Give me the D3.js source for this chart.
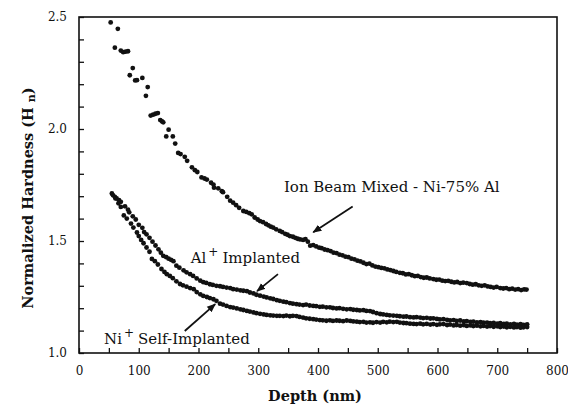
<!DOCTYPE html>
<html>
<head>
<meta charset="utf-8">
<script src="https://cdn.jsdelivr.net/npm/d3@7"></script>
<style>
  body { margin: 0; background: #fff; }
  svg { display: block; }
  .tick text { font-family: "DejaVu Serif", "Liberation Serif", serif; font-size: 12px; fill: #111; }
  .tick line { stroke: #111; stroke-width: 1.3; }
  .domain { stroke: none; }
</style>
</head>
<body>
<script>
// Datos: [profundidad (nm), dureza normalizada]
var ionBeamMixed = [
  [53,2.476],[65,2.447],[60,2.363],[70,2.350],[74,2.343],[78,2.345],[82,2.347],
  [90,2.272],[85,2.240],[94,2.217],[97,2.218],[106,2.228],[115,2.187],[112,2.148],
  [120,2.060],[124,2.064],[128,2.068],[132,2.071],[136,2.040],[139,2.034],[141,2.030],
  [150,1.997],[146,1.967],[157,1.967],[161,1.935],[166,1.893],[170,1.888],[177,1.876],
  [181,1.858],[189,1.829],[194,1.816],[198,1.808],[205,1.784],[210,1.779],[214,1.774],
  [221,1.760],[225,1.752],[226,1.738],[233,1.735],[239,1.722],[241,1.718],[248,1.697],
  [253,1.680],[258,1.671],[263,1.660],[268,1.648],[275,1.634],[280,1.630],[285,1.624],
  [289,1.619],[294,1.605],[299,1.596],[303,1.589],[308,1.584],[313,1.576],[317,1.570],
  [321,1.564],[325,1.560],[330,1.552],[336,1.545],[340,1.540],[345,1.532],[349,1.528],
  [353,1.522],[358,1.519],[362,1.514],[366,1.510],[370,1.507],[375,1.505],[379,1.508],
  [383,1.497],[387,1.479],[392,1.482],[397,1.476],[402,1.470],[406,1.468],[411,1.462],
  [416,1.459],[421,1.455],[426,1.448],[431,1.446],[436,1.439],[441,1.436],[446,1.430],
  [451,1.428],[456,1.421],[461,1.418],[466,1.412],[471,1.409],[476,1.403],[481,1.397],
  [486,1.399],[491,1.391],[496,1.386],[501,1.383],[506,1.380],[511,1.378],[516,1.373],
  [521,1.370],[526,1.366],[531,1.362],[537,1.358],[542,1.356],[547,1.351],[552,1.352],
  [557,1.347],[562,1.343],[567,1.344],[572,1.339],[577,1.336],[582,1.337],[587,1.333],
  [593,1.330],[598,1.327],[603,1.328],[608,1.323],[613,1.321],[618,1.322],[623,1.318],
  [628,1.315],[633,1.317],[638,1.312],[643,1.314],[649,1.312],[654,1.308],[659,1.305],
  [664,1.307],[669,1.302],[674,1.300],[679,1.302],[684,1.297],[689,1.295],[694,1.292],
  [699,1.295],[705,1.290],[710,1.288],[715,1.290],[720,1.285],[725,1.287],[730,1.283],
  [735,1.285],[740,1.281],[745,1.284],[749,1.283]
];

var alImplanted = [
  [55,1.712],[60,1.697],[63,1.690],[67,1.682],[70,1.675],[77,1.655],[82,1.640],
  [84,1.628],[90,1.610],[95,1.596],[100,1.572],[106,1.559],[109,1.540],[113,1.530],
  [118,1.514],[123,1.497],[128,1.480],[133,1.463],[137,1.448],[141,1.434],[146,1.428],
  [150,1.421],[154,1.416],[158,1.410],[163,1.390],[168,1.381],[175,1.369],[180,1.360],
  [186,1.352],[191,1.344],[197,1.333],[203,1.323],[208,1.316],[213,1.313],[219,1.307],
  [224,1.304],[230,1.300],[236,1.298],[241,1.295],[247,1.292],[253,1.290],[258,1.285],
  [264,1.283],[270,1.280],[275,1.278],[281,1.276],[286,1.270],[292,1.266],[297,1.260],
  [303,1.256],[309,1.252],[314,1.248],[320,1.244],[325,1.241],[331,1.236],[336,1.233],
  [342,1.229],[347,1.227],[353,1.223],[358,1.220],[364,1.218],[369,1.216],[375,1.214],
  [380,1.216],[386,1.212],[392,1.210],[397,1.209],[403,1.206],[408,1.207],[414,1.204],
  [420,1.204],[425,1.201],[431,1.199],[436,1.200],[442,1.197],[448,1.195],[454,1.196],
  [459,1.193],[465,1.192],[470,1.190],[476,1.191],[481,1.188],[487,1.187],[492,1.183],
  [498,1.178],[504,1.174],[509,1.172],[515,1.170],[520,1.168],[526,1.167],[532,1.166],
  [537,1.164],[543,1.162],[548,1.163],[554,1.160],[560,1.159],[565,1.160],[571,1.158],
  [576,1.156],[582,1.157],[588,1.154],[593,1.155],[599,1.152],[604,1.150],[610,1.151],
  [616,1.148],[621,1.146],[627,1.147],[632,1.143],[638,1.145],[644,1.141],[649,1.142],
  [655,1.139],[660,1.140],[666,1.137],[672,1.138],[677,1.135],[683,1.136],[688,1.133],
  [694,1.134],[700,1.131],[705,1.133],[711,1.130],[716,1.131],[722,1.128],[728,1.130],
  [733,1.127],[739,1.129],[744,1.126],[750,1.128]
];

var niSelfImplanted = [
  [57,1.704],[61,1.690],[66,1.668],[70,1.652],[75,1.614],[80,1.600],[87,1.578],
  [91,1.560],[97,1.538],[100,1.522],[104,1.505],[108,1.490],[113,1.471],[118,1.452],
  [122,1.420],[127,1.410],[132,1.395],[138,1.375],[143,1.362],[147,1.352],[152,1.344],
  [157,1.334],[163,1.320],[169,1.308],[174,1.302],[180,1.296],[186,1.290],[192,1.285],
  [197,1.272],[203,1.262],[208,1.255],[214,1.250],[219,1.245],[225,1.240],[230,1.233],
  [236,1.220],[241,1.216],[247,1.210],[253,1.205],[258,1.203],[264,1.199],[270,1.195],
  [275,1.192],[281,1.188],[286,1.185],[292,1.181],[297,1.178],[303,1.175],[309,1.172],
  [314,1.170],[320,1.168],[325,1.167],[331,1.166],[336,1.166],[342,1.165],[347,1.167],
  [353,1.164],[358,1.166],[364,1.165],[369,1.161],[375,1.158],[380,1.155],[386,1.153],
  [392,1.151],[397,1.149],[403,1.147],[408,1.146],[414,1.144],[420,1.146],[425,1.143],
  [431,1.145],[436,1.144],[442,1.142],[448,1.145],[454,1.143],[459,1.141],[465,1.140],
  [470,1.138],[476,1.139],[481,1.136],[487,1.137],[492,1.135],[498,1.138],[504,1.136],
  [509,1.139],[515,1.137],[520,1.140],[526,1.138],[532,1.139],[537,1.136],[543,1.134],
  [548,1.133],[554,1.131],[560,1.130],[565,1.129],[571,1.131],[576,1.128],[582,1.130],
  [588,1.127],[593,1.129],[599,1.126],[604,1.128],[610,1.129],[616,1.125],[621,1.127],
  [627,1.123],[632,1.125],[638,1.122],[644,1.124],[649,1.121],[655,1.123],[660,1.120],
  [666,1.122],[672,1.119],[677,1.121],[683,1.118],[688,1.120],[694,1.117],[700,1.119],
  [705,1.116],[711,1.118],[716,1.115],[722,1.117],[728,1.114],[733,1.116],[739,1.113],
  [744,1.115],[750,1.116]
];

var xTicks = [0, 50, 100, 150, 200, 250, 300, 350, 400, 450, 500, 550, 600, 650, 700, 750, 800];
var yTicks = [1.0, 1.1, 1.2, 1.3, 1.4, 1.5, 1.6, 1.7, 1.8, 1.9, 2.0, 2.1, 2.2, 2.3, 2.4, 2.5];

var vis = {
  width: 568,
  height: 411,
  left: 79,
  right: 557,
  top: 17,
  bottom: 353,
  radio: 2.4,
  color: "#111",
  serif: "'DejaVu Serif', 'Liberation Serif', serif"
};

var svg = d3.select("body").append("svg")
  .attr("width", vis.width)
  .attr("height", vis.height);

var x = d3.scaleLinear().domain([0, 800]).range([vis.left, vis.right]);
var y = d3.scaleLinear().domain([1.0, 2.5]).range([vis.bottom, vis.top]);

svg.append("defs").append("marker")
  .attr("id", "flecha")
  .attr("viewBox", "0 0 10 10")
  .attr("refX", 9).attr("refY", 5)
  .attr("markerWidth", 5).attr("markerHeight", 5)
  .attr("markerUnits", "strokeWidth")
  .attr("orient", "auto")
  .append("path")
  .attr("d", "M0,1 L10,5 L0,9 z")
  .attr("fill", vis.color);

// ejes con marcas hacia dentro
svg.append("g")
  .attr("transform", "translate(0," + vis.bottom + ")")
  .call(d3.axisBottom(x).tickValues(xTicks).tickSizeInner(-5).tickSizeOuter(0).tickPadding(13)
    .tickFormat(function(d) { return d % 100 === 0 ? d : ""; }));

svg.append("g")
  .attr("transform", "translate(" + vis.left + ",0)")
  .call(d3.axisLeft(y).tickValues(yTicks).tickSizeInner(-5).tickSizeOuter(0).tickPadding(12)
    .tickFormat(function(d) { return Math.round(d * 10) % 5 === 0 ? d3.format(".1f")(d) : ""; }));

// marco
svg.append("rect")
  .attr("x", vis.left).attr("y", vis.top)
  .attr("width", vis.right - vis.left).attr("height", vis.bottom - vis.top)
  .attr("fill", "none").attr("stroke", vis.color).attr("stroke-width", 1.6);

var series = [ionBeamMixed, alImplanted, niSelfImplanted];
svg.selectAll("g.serie")
  .data(series)
  .enter().append("g")
  .attr("class", "serie")
  .selectAll("circle")
  .data(function(d) { return d; })
  .enter().append("circle")
  .attr("cx", function(d) { return x(d[0]); })
  .attr("cy", function(d) { return y(d[1]); })
  .attr("r", vis.radio)
  .attr("fill", vis.color);

// titulos de ejes
svg.append("text")
  .attr("x", (vis.left + vis.right) / 2 - 3)
  .attr("y", 401)
  .attr("text-anchor", "middle")
  .attr("font-family", vis.serif)
  .attr("font-weight", "bold")
  .attr("font-size", 14.5)
  .attr("fill", vis.color)
  .text("Depth (nm)");

var ylab = svg.append("text")
  .attr("transform", "translate(33,198) rotate(-90)")
  .attr("text-anchor", "middle")
  .attr("font-family", vis.serif)
  .attr("font-weight", "bold")
  .attr("font-size", 14.5)
  .attr("fill", vis.color);
ylab.append("tspan").text("Normalized Hardness (H ");
ylab.append("tspan").attr("font-size", 11).attr("dy", 2).text("n");
ylab.append("tspan").attr("dy", -2).text(")");

// anotaciones
function etiqueta(px, py, partes) {
  var t = svg.append("text")
    .attr("x", x(px)).attr("y", y(py))
    .attr("font-family", vis.serif)
    .attr("font-size", 15)
    .attr("fill", vis.color);
  partes.forEach(function(p) {
    var s = t.append("tspan").text(p.texto);
    if (p.sup) s.attr("dy", -7).attr("font-size", 12).attr("dx", 2);
    if (p.baja) s.attr("dy", 7).attr("dx", 4);
  });
}

function flecha(x1, y1, x2, y2) {
  svg.append("line")
    .attr("x1", x(x1)).attr("y1", y(y1))
    .attr("x2", x(x2)).attr("y2", y(y2))
    .attr("stroke", vis.color)
    .attr("stroke-width", 1.8)
    .attr("marker-end", "url(#flecha)");
}

etiqueta(343, 1.717, [{texto: "Ion Beam Mixed - Ni-75% Al"}]);
flecha(458, 1.654, 392, 1.539);

etiqueta(187, 1.401, [{texto: "Al"}, {texto: "+", sup: true}, {texto: "Implanted", baja: true}]);
flecha(333, 1.352, 298, 1.276);

etiqueta(42, 1.040, [{texto: "Ni"}, {texto: "+", sup: true}, {texto: "Self-Implanted", baja: true}]);
flecha(177, 1.098, 228, 1.218);
</script>
</body>
</html>
